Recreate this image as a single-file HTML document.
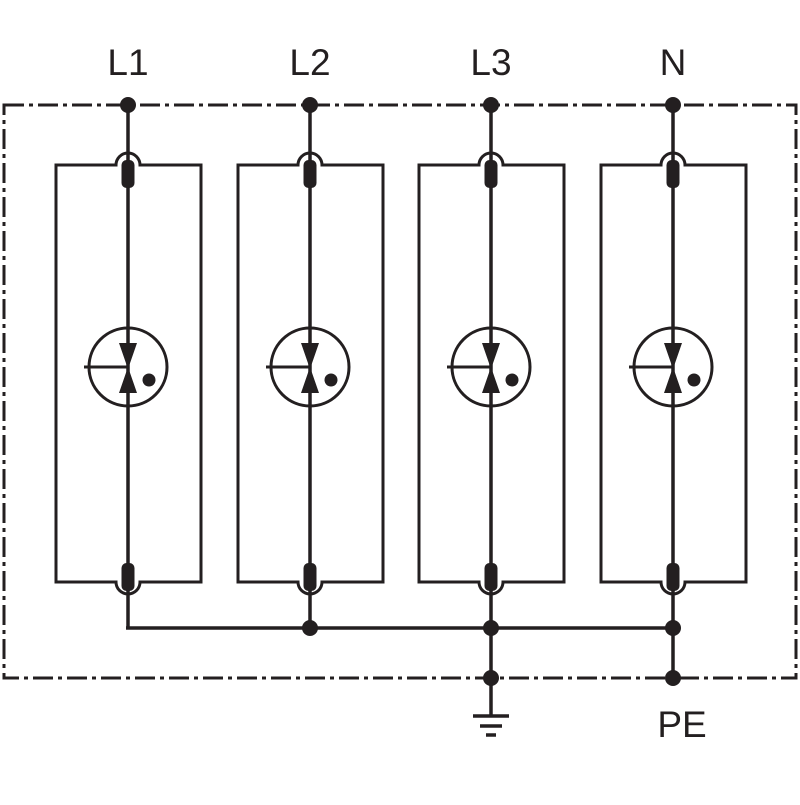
<!DOCTYPE html>
<html><head><style>html,body{margin:0;padding:0;background:#fff}</style></head>
<body>
<svg width="800" height="800" viewBox="0 0 800 800" xmlns="http://www.w3.org/2000/svg">
<defs>
<g id="m" fill="none" stroke="#231f20" stroke-width="3.5">
  <!-- vertical line -->
  <line x1="0" y1="105" x2="0" y2="628"/>
  <!-- box top with arc -->
  <path d="M-72 165 H-12 A12 12 0 0 1 12 165 H73 V582 H12 A12 12 0 0 1 -12 582 H-72 Z" stroke-width="3"/>
  <rect x="-6.5" y="160" width="13" height="28" rx="5" fill="#231f20" stroke="none"/>
  <rect x="-6.5" y="563" width="13" height="28" rx="5" fill="#231f20" stroke="none"/>
  <circle cx="0" cy="367" r="39" stroke-width="3"/>
  <line x1="-44" y1="367" x2="0" y2="367" stroke-width="3"/>
  <path d="M-9 343 H9 L0 369 Z M-9 393 H9 L0 367 Z" fill="#231f20" stroke="none"/>
  <circle cx="21" cy="380" r="6.5" fill="#231f20" stroke="none"/>
  <circle cx="0" cy="105" r="8" fill="#231f20" stroke="none"/>
</g>
</defs>
<rect x="4" y="105" width="792" height="573" fill="none" stroke="#231f20" stroke-width="3" stroke-dasharray="20 5 4 5"/>
<use href="#m" x="128"/>
<use href="#m" x="310"/>
<use href="#m" x="491"/>
<use href="#m" x="673"/>
<g stroke="#231f20" stroke-width="3.5" fill="none">
  <line x1="126" y1="628" x2="673" y2="628"/>
  <line x1="491" y1="628" x2="491" y2="716"/>
  <line x1="673" y1="628" x2="673" y2="678"/>
  <line x1="473" y1="716" x2="509" y2="716"/>
  <line x1="480" y1="726" x2="502" y2="726"/>
  <line x1="486" y1="735" x2="496" y2="735"/>
</g>
<g fill="#231f20">
  <circle cx="310" cy="628" r="8"/><circle cx="491" cy="628" r="8"/><circle cx="673" cy="628" r="8"/>
  <circle cx="491" cy="678" r="8"/><circle cx="673" cy="678" r="8"/>
</g>
<g font-family="Liberation Sans, sans-serif" font-size="37" fill="#231f20" text-anchor="middle">
  <text x="128" y="75">L1</text>
  <text x="310" y="75">L2</text>
  <text x="491" y="75">L3</text>
  <text x="673" y="75">N</text>
  <text x="682" y="737">PE</text>
</g>
</svg>
</body></html>
